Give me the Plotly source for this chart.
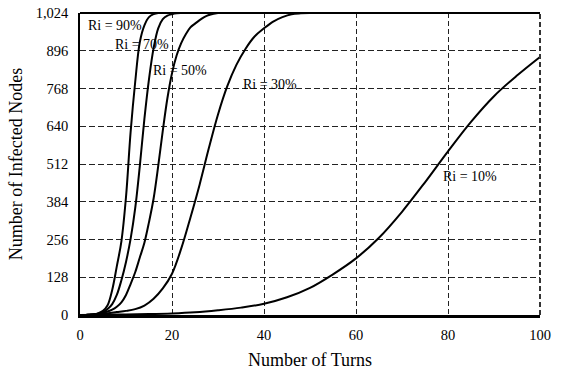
import plotly.graph_objects as go

# ---- data ----
x_ri90 = [0, 1, 2, 3, 4, 5, 6, 7, 8, 9, 10, 11, 12, 13, 14, 15, 16, 17, 20, 100]
y_ri90 = [0, 0, 1, 2, 6, 14, 33, 85, 165, 250, 400, 620, 790, 925, 982, 1010, 1020, 1024, 1024, 1024]

x_ri70 = [0, 1, 2, 3, 4, 5, 6, 7, 8, 9, 10, 11, 12, 13, 14, 15, 16, 17, 18, 19, 20, 21, 22, 100]
y_ri70 = [0, 0, 1, 2, 4, 9, 20, 37, 68, 118, 180, 258, 362, 505, 665, 800, 905, 972, 1003, 1015, 1020, 1023, 1024, 1024]

x_ri50 = [0, 2, 4, 6, 7, 8, 9, 10, 11, 12, 13, 14, 15, 16, 17, 18, 19, 20, 21, 22, 23, 24, 25, 26, 27, 28, 30, 100]
y_ri50 = [0, 1, 4, 12, 18, 28, 43, 68, 105, 145, 195, 245, 315, 395, 505, 625, 735, 820, 880, 922, 952, 975, 988, 1000, 1010, 1017, 1024, 1024]

x_ri30 = [0, 2, 4, 6, 8, 10, 12, 14, 16, 18, 20, 22, 24, 26, 28, 30, 32, 34, 36, 38, 40, 42, 44, 46, 48, 50, 100]
y_ri30 = [0, 1, 3, 6, 10, 14, 20, 32, 55, 90, 140, 225, 330, 442, 565, 680, 775, 848, 903, 945, 972, 995, 1010, 1020, 1023, 1024, 1024]

x_ri10 = [0, 5, 10, 15, 20, 25, 30, 35, 40, 45, 50, 55, 60, 65, 70, 75, 80, 85, 90, 95, 100]
y_ri10 = [0, 1, 2, 3, 5, 9, 16, 25, 38, 60, 92, 138, 192, 262, 350, 450, 555, 655, 742, 812, 875]

series = [
    ("Ri = 90%", x_ri90, y_ri90),
    ("Ri = 70%", x_ri70, y_ri70),
    ("Ri = 50%", x_ri50, y_ri50),
    ("Ri = 30%", x_ri30, y_ri30),
    ("Ri = 10%", x_ri10, y_ri10),
]

# label anchor points (data coords) for the in-plot series labels
label_names = ["Ri = 90%", "Ri = 70%", "Ri = 50%", "Ri = 30%", "Ri = 10%"]
label_x = [7.6, 13.4, 21.8, 41.4, 84.8]
label_y = [983, 917, 830, 783, 470]

y_ticks = [0, 128, 256, 384, 512, 640, 768, 896, 1024]
x_ticks = [0, 20, 40, 60, 80, 100]

FONT = "Times New Roman, Liberation Serif, serif"

fig = go.Figure()
for name, xs, ys in series:
    fig.add_trace(go.Scatter(
        x=xs, y=ys, mode="lines", name=name,
        line=dict(color="black", width=2, shape="spline", smoothing=1.0),
        showlegend=False, hoverinfo="skip",
    ))

for name, lx, ly in zip(label_names, label_x, label_y):
    fig.add_annotation(x=lx, y=ly, text=name, showarrow=False,
                       font=dict(family=FONT, size=14, color="black"),
                       xanchor="center", yanchor="middle")

fig.update_layout(
    width=561, height=373,
    margin=dict(l=80, r=21, t=13, b=58, autoexpand=False),
    paper_bgcolor="white", plot_bgcolor="white",
    font=dict(family=FONT, size=14, color="black"),
)

fig.update_xaxes(
    range=[0, 100], tickvals=x_ticks, ticks="", automargin=False,
    showgrid=True, gridcolor="#222", gridwidth=1, griddash="5px,3px",
    showline=True, linecolor="black", linewidth=2.5,
    zeroline=False, ticklabelstandoff=5, ticklabeloverflow="allow",
    tickfont=dict(family=FONT, size=14.5),
    title=dict(text="Number of Turns", font=dict(family=FONT, size=18), standoff=12),
)
fig.update_yaxes(
    range=[0, 1024], tickvals=y_ticks, tickformat=",d", ticks="", automargin=False,
    showgrid=True, gridcolor="#222", gridwidth=1, griddash="6px,3px",
    showline=True, linecolor="black", linewidth=1.5,
    zeroline=False, ticklabelstandoff=7, ticklabeloverflow="allow",
    tickfont=dict(family=FONT, size=14.5),
    title=dict(text="Number of Infected Nodes", font=dict(family=FONT, size=18), standoff=8),
)

# top frame line and dashed right edge
fig.add_shape(type="line", xref="x domain", yref="y domain", x0=0, x1=1, y0=1, y1=1,
              line=dict(color="black", width=2))
fig.add_shape(type="line", xref="x domain", yref="y domain", x0=1, x1=1, y0=0, y1=1,
              line=dict(color="#333", width=2, dash="5px,3px"))

# remove the default page margin so the figure fills the window exactly
fig.write_html("out.html", config={"displayModeBar": False},
               post_script="document.body.style.margin='0';")
